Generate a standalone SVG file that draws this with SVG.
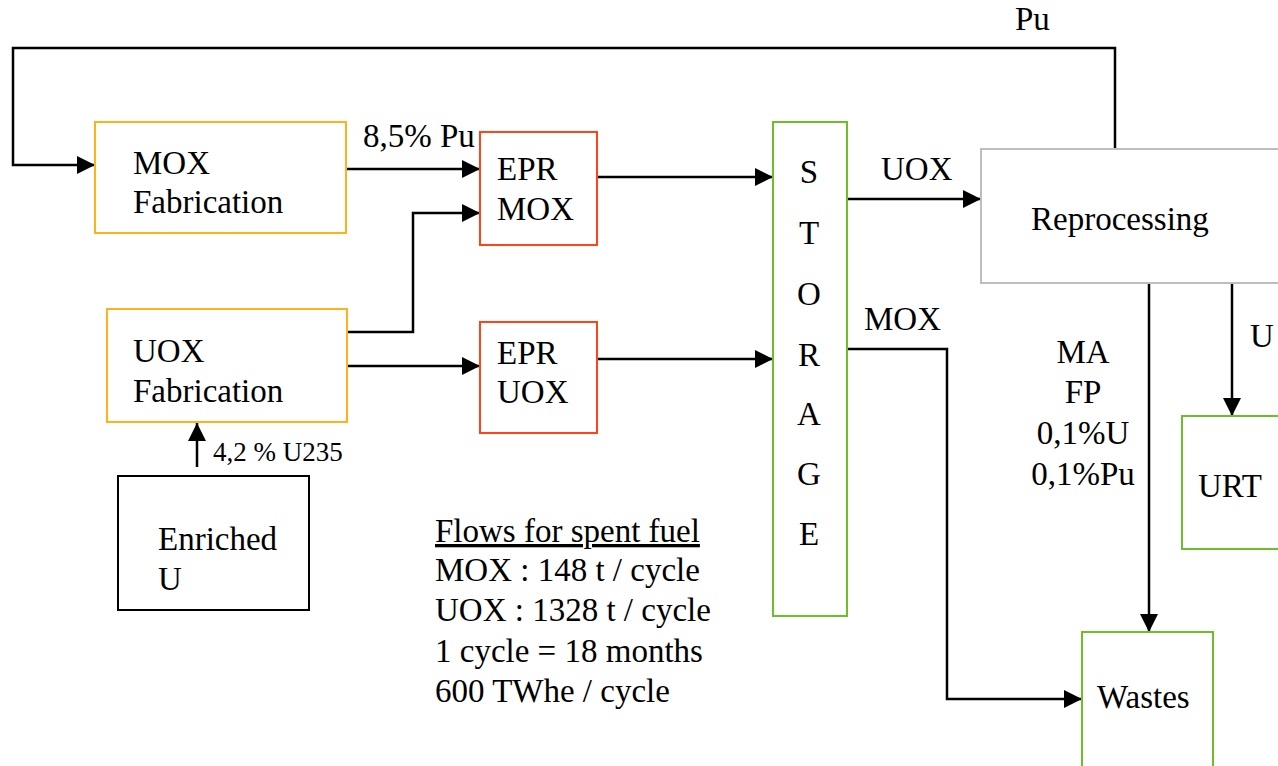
<svg xmlns="http://www.w3.org/2000/svg" width="1278" height="766" viewBox="0 0 1278 766" font-family="'Liberation Serif', 'DejaVu Serif', serif">
  <defs>
    <style>
      text { font-family: 'Liberation Serif', 'DejaVu Serif', serif; font-size: 33px; fill: #000; }
      .small { font-size: 27px; }
      .box { fill: #fff; stroke-width: 2; }
      .fab { stroke: #FFB21A; }
      .epr { stroke: #FF4518; }
      .green { stroke: #6EBE2A; }
      .grey { stroke: #BDBDBD; }
      .black { stroke: #000; }
      .link { fill: none; stroke: #000; stroke-width: 2.5; marker-end: url(#arrow); }
      .mid { text-anchor: middle; }
    </style>
    <marker id="arrow" markerUnits="userSpaceOnUse" markerWidth="20" markerHeight="20" refX="18" refY="9" orient="auto">
      <path d="M0,0 L18,9 L0,18 z" fill="#000"/>
    </marker>
  </defs>
  <rect width="1278" height="766" fill="#fff"/>

  <!-- connectors and their labels -->
  <g id="connectors">
    <path class="link" d="M1115,149 V48 H13 V165 H95"/>
    <path class="link" d="M342,169 H480"/>
    <path class="link" d="M346,332 H413 V213 H480"/>
    <path class="link" d="M346,366 H480"/>
    <path class="link" d="M197,467 V423"/>
    <path class="link" d="M597,177 H773"/>
    <path class="link" d="M597,359 H773"/>
    <path class="link" d="M847,199 H981"/>
    <path class="link" d="M847,349 H947 V699 H1082"/>
    <path class="link" d="M1149,283 V632"/>
    <path class="link" d="M1232,283 V416"/>
    <text x="1015" y="30">Pu</text>
    <text x="363" y="147">8,5% Pu</text>
    <text class="small" x="213" y="461">4,2 % U235</text>
    <text x="881" y="180">UOX</text>
    <text x="864" y="330">MOX</text>
    <text x="1250" y="347">U</text>
    <g class="mid">
      <text x="1083" y="363">MA</text>
      <text x="1083" y="403">FP</text>
      <text x="1083" y="444">0,1%U</text>
      <text x="1083" y="485">0,1%Pu</text>
    </g>
  </g>

  <g id="mox-fabrication">
    <rect class="box fab" x="95" y="122" width="251" height="111"/>
    <text x="133" y="174">MOX</text>
    <text x="133" y="213">Fabrication</text>
  </g>

  <g id="uox-fabrication">
    <rect class="box fab" x="107" y="309" width="240" height="113"/>
    <text x="133" y="362">UOX</text>
    <text x="133" y="402">Fabrication</text>
  </g>

  <g id="epr-mox">
    <rect class="box epr" x="480" y="132" width="117" height="113"/>
    <text x="497" y="180">EPR</text>
    <text x="497" y="220">MOX</text>
  </g>

  <g id="epr-uox">
    <rect class="box epr" x="480" y="322" width="117" height="111"/>
    <text x="497" y="364">EPR</text>
    <text x="497" y="403">UOX</text>
  </g>

  <g id="enriched-u">
    <rect class="box black" x="118" y="476" width="191" height="134"/>
    <text x="158" y="550">Enriched</text>
    <text x="158" y="590">U</text>
  </g>

  <g id="storage">
    <rect class="box green" x="773" y="122" width="74" height="494"/>
    <g class="mid">
      <text x="809" y="183">S</text>
      <text x="809" y="244">T</text>
      <text x="809" y="305">O</text>
      <text x="809" y="366">R</text>
      <text x="809" y="425">A</text>
      <text x="809" y="485">G</text>
      <text x="809" y="545">E</text>
    </g>
  </g>

  <g id="reprocessing">
    <rect class="box grey" x="981" y="149" width="300" height="134"/>
    <text x="1031" y="230">Reprocessing</text>
  </g>

  <g id="urt">
    <rect class="box green" x="1182" y="416" width="100" height="133"/>
    <text x="1198" y="497">URT</text>
  </g>

  <g id="wastes">
    <rect class="box green" x="1082" y="632" width="131" height="136"/>
    <text x="1097" y="708">Wastes</text>
  </g>

  <g id="flows-note">
    <text x="435" y="542" text-decoration="underline">Flows for spent fuel</text>
    <text x="435" y="581">MOX : 148 t / cycle</text>
    <text x="435" y="621">UOX : 1328 t / cycle</text>
    <text x="435" y="662">1 cycle = 18 months</text>
    <text x="435" y="702">600 TWhe / cycle</text>
  </g>
</svg>
